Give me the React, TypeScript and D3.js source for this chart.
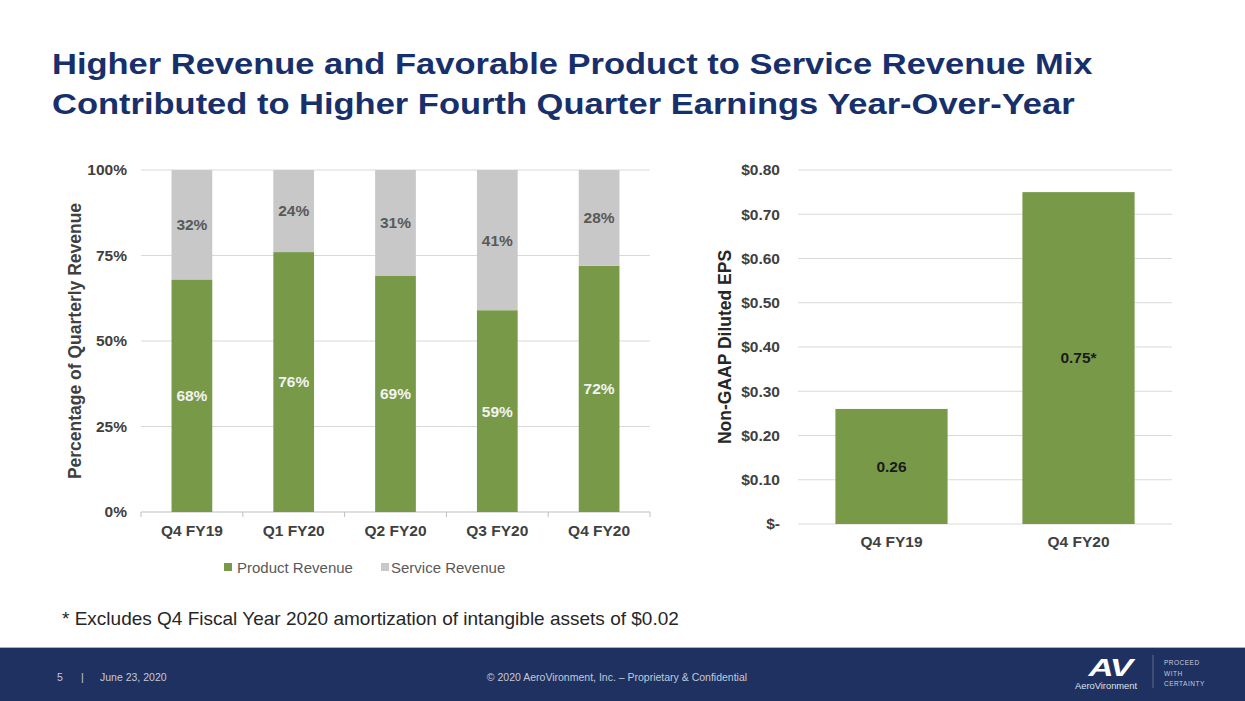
import React from "react";
import * as d3 from "d3";

const quarters = ["Q4 FY19", "Q1 FY20", "Q2 FY20", "Q3 FY20", "Q4 FY20"];
const productShare = [0.68, 0.76, 0.69, 0.59, 0.72];
const serviceShare = [0.32, 0.24, 0.31, 0.41, 0.28];
const pctTicks = [0, 0.25, 0.5, 0.75, 1];

const epsCategories = ["Q4 FY19", "Q4 FY20"];
const epsValues = [0.26, 0.75];
const epsLabels = ["0.26", "0.75*"];
const epsTicks = [0, 0.1, 0.2, 0.3, 0.4, 0.5, 0.6, 0.7, 0.8];

const titleLines = [
  "Higher Revenue and Favorable Product to Service Revenue Mix",
  "Contributed to Higher Fourth Quarter Earnings Year-Over-Year",
];
const footnote = "* Excludes Q4 Fiscal Year 2020 amortization of intangible assets of $0.02";

const GREEN = "#789a48";
const GRAY = "#c8c8c8";
const NAVY = "#17306b";
const FONT = "'Liberation Sans', Arial, Helvetica, sans-serif";
const FS = 15.5;

export default function App() {
  // Left chart scales
  const xL = d3.scaleBand<string>().domain(quarters).range([141, 650]).paddingInner(0.6).paddingOuter(0.3);
  const yL = d3.scaleLinear().domain([0, 1]).range([512, 170]);
  const stepL = xL.step();
  const fmtPct = d3.format(".0%");

  // Right chart scales
  const xR = d3.scaleBand<string>().domain(epsCategories).range([798, 1172]).paddingInner(0.4).paddingOuter(0.2);
  const yR = d3.scaleLinear().domain([0, 0.8]).range([524, 170]);
  const fmtEps = (v: number) => (v === 0 ? "$-" : "$" + d3.format(".2f")(v));

  return (
    <svg
      width={1245}
      height={701}
      viewBox="0 0 1245 701"
      style={{ position: "absolute", left: 0, top: 0, background: "#fff" }}
      fontFamily={FONT}
    >
      <rect x={0} y={0} width={1245} height={701} fill="#ffffff" />

      {/* Title */}
      {titleLines.map((t, i) => (
        <text
          key={i}
          transform={`translate(52,${74 + i * 39.5}) scale(1.15,1)`}
          fontSize={30}
          fontWeight="bold"
          fill={NAVY}
        >
          {t}
        </text>
      ))}

      {/* ---------- Left chart ---------- */}
      {pctTicks.map((t) => (
        <g key={"lg" + t}>
          {t > 0 && (
            <line x1={141} x2={650} y1={yL(t)} y2={yL(t)} stroke="#d9d9d9" strokeWidth={1} />
          )}
          <text x={127} y={yL(t)} dy="0.35em" textAnchor="end" fontSize={FS} fontWeight="bold" fill="#404040">
            {fmtPct(t)}
          </text>
        </g>
      ))}
      <line x1={141} x2={650} y1={yL(0)} y2={yL(0)} stroke="#bfbfbf" strokeWidth={1} />
      {d3.range(quarters.length + 1).map((i) => (
        <line
          key={"tk" + i}
          x1={141 + i * stepL}
          x2={141 + i * stepL}
          y1={yL(0)}
          y2={yL(0) + 5}
          stroke="#bfbfbf"
        />
      ))}

      {quarters.map((q, i) => {
        const x = xL(q)!;
        const w = xL.bandwidth();
        const p = productShare[i];
        const s = serviceShare[i];
        const cx = x + w / 2;
        return (
          <g key={q}>
            <rect x={x} y={yL(p)} width={w} height={yL(0) - yL(p)} fill={GREEN} />
            <rect x={x} y={yL(1)} width={w} height={yL(p) - yL(1)} fill={GRAY} />
            <text
              x={cx}
              y={(yL(0) + yL(p)) / 2}
              dy="0.35em"
              textAnchor="middle"
              fontSize={FS}
              fontWeight="bold"
              fill="#f2f2f2"
            >
              {fmtPct(p)}
            </text>
            <text
              x={cx}
              y={(yL(p) + yL(1)) / 2}
              dy="0.35em"
              textAnchor="middle"
              fontSize={FS}
              fontWeight="bold"
              fill="#595959"
            >
              {fmtPct(s)}
            </text>
            <text x={cx} y={536} textAnchor="middle" fontSize={FS} fontWeight="bold" fill="#404040">
              {q}
            </text>
          </g>
        );
      })}

      <text
        transform="translate(81,341) rotate(-90)"
        textAnchor="middle"
        fontSize={17.5}
        fontWeight="bold"
        fill="#404040"
      >
        Percentage of Quarterly Revenue
      </text>

      {/* Legend */}
      <rect x={224} y={563} width={8} height={8} fill={GREEN} />
      <text x={237} y={573} fontSize={15} fill="#595959">
        Product Revenue
      </text>
      <rect x={381} y={563} width={8} height={8} fill={GRAY} />
      <text x={391} y={573} fontSize={15} fill="#595959">
        Service Revenue
      </text>

      {/* ---------- Right chart ---------- */}
      {epsTicks.map((t) => (
        <g key={"rg" + t}>
          <line x1={798} x2={1172} y1={yR(t)} y2={yR(t)} stroke="#d9d9d9" strokeWidth={1} />
          <text x={780} y={yR(t)} dy="0.35em" textAnchor="end" fontSize={FS} fontWeight="bold" fill="#404040">
            {fmtEps(t)}
          </text>
        </g>
      ))}
      {epsCategories.map((c, i) => {
        const x = xR(c)!;
        const w = xR.bandwidth();
        const v = epsValues[i];
        return (
          <g key={c}>
            <rect x={x} y={yR(v)} width={w} height={yR(0) - yR(v)} fill={GREEN} />
            <text
              x={x + w / 2}
              y={(yR(0) + yR(v)) / 2}
              dy="0.35em"
              textAnchor="middle"
              fontSize={FS}
              fontWeight="bold"
              fill="#1a1a1a"
            >
              {epsLabels[i]}
            </text>
            <text x={x + w / 2} y={547} textAnchor="middle" fontSize={FS} fontWeight="bold" fill="#404040">
              {c}
            </text>
          </g>
        );
      })}
      <text
        transform="translate(731,347) rotate(-90)"
        textAnchor="middle"
        fontSize={17.5}
        fontWeight="bold"
        fill="#262626"
      >
        Non-GAAP Diluted EPS
      </text>

      {/* Footnote */}
      <text x={62} y={625} fontSize={19} fill="#262626">
        {footnote}
      </text>

      {/* Footer */}
      <rect x={0} y={647} width={1245} height={54} fill="#1e3160" />
      <line x1={0} x2={1245} y1={647.5} y2={647.5} stroke="#a7afc2" strokeWidth={1} />
      <text x={57} y={681} fontSize={10.5} fill="#c3c9d8">
        5
      </text>
      <text x={81} y={681} fontSize={10.5} fill="#c3c9d8">
        |
      </text>
      <text x={100} y={681} fontSize={10.5} fill="#c3c9d8">
        June 23, 2020
      </text>
      <text x={617} y={681} textAnchor="middle" fontSize={10.5} fill="#c3c9d8">
        © 2020 AeroVironment, Inc. – Proprietary &amp; Confidential
      </text>

      {/* Logo */}
      <text
        transform="translate(1110,676) scale(1.45,1)"
        textAnchor="middle"
        fontSize={24}
        fontWeight="bold"
        fontStyle="italic"
        fill="#ffffff"
        letterSpacing={-1}
      >
        AV
      </text>
      <text transform="translate(1075,689) scale(1.1,1)" fontSize={8.5} fill="#dfe3ec">
        AeroVironment
      </text>
      <line x1={1153} x2={1153} y1={655} y2={688} stroke="#5d6b90" strokeWidth={1} />
      <text x={1164} y={665} fontSize={6.5} fill="#c6ccdb" letterSpacing={0.5}>
        PROCEED
      </text>
      <text x={1164} y={676} fontSize={6.5} fill="#c6ccdb" letterSpacing={0.5}>
        WITH
      </text>
      <text x={1164} y={686} fontSize={6.5} fill="#c6ccdb" letterSpacing={0.5}>
        CERTAINTY
      </text>
    </svg>
  );
}
